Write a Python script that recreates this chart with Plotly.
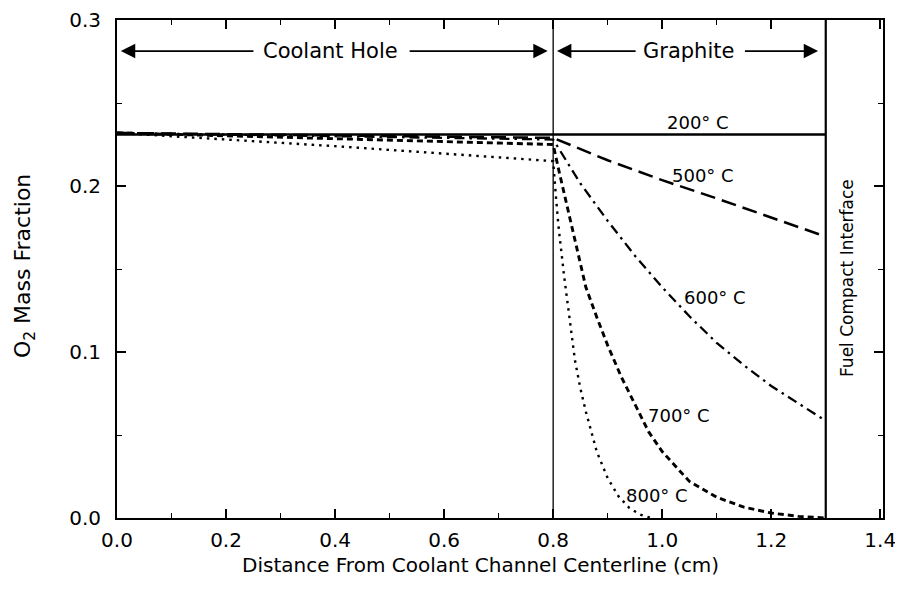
import plotly.graph_objects as go

# ---- data ----
x_200 = [0.0, 1.3]
o2_200 = [0.231, 0.231]

x_500 = [0.0, 0.4, 0.8, 0.9, 1.0, 1.1, 1.2, 1.3]
o2_500 = [0.232, 0.2305, 0.229, 0.2155, 0.2035, 0.1925, 0.181, 0.1695]

x_600 = [0.0, 0.4, 0.8, 0.85, 0.9, 0.95, 1.0, 1.05, 1.1, 1.15, 1.2, 1.25, 1.3]
o2_600 = [0.232, 0.230, 0.228, 0.2015, 0.179, 0.158, 0.139, 0.1215, 0.1055, 0.092, 0.0795, 0.069, 0.0585]

x_700 = [0.0, 0.4, 0.8, 0.81, 0.82, 0.84, 0.86, 0.88, 0.9, 0.925, 0.95, 0.975, 1.0, 1.05, 1.1, 1.15, 1.2, 1.25, 1.3]
o2_700 = [0.232, 0.2285, 0.225, 0.210, 0.196, 0.168, 0.139, 0.121, 0.104, 0.085, 0.068, 0.052, 0.040, 0.022, 0.0125, 0.0065, 0.003, 0.001, 0.0]

x_800 = [0.0, 0.2, 0.4, 0.6, 0.8, 0.805, 0.81, 0.82, 0.83, 0.84, 0.85, 0.86, 0.88, 0.9, 0.92, 0.94, 0.96, 0.98]
o2_800 = [0.232, 0.228, 0.224, 0.2195, 0.215, 0.194, 0.175, 0.146, 0.120, 0.095, 0.078, 0.064, 0.040, 0.024, 0.013, 0.006, 0.002, 0.0]

coolant_edge = 0.8
fuel_interface = 1.3

curve_labels = ["200° C", "500° C", "600° C", "700° C", "800° C"]
label_x = [1.065, 1.075, 1.096, 1.03, 0.991]
label_y = [0.238, 0.2066, 0.133, 0.062, 0.0134]

x_ticks = [0.0, 0.2, 0.4, 0.6, 0.8, 1.0, 1.2, 1.4]
y_ticks = [0.0, 0.1, 0.2, 0.3]

FONT = "DejaVu Sans"
BLACK = "#000000"

# page body has an 8px margin; size the figure so the plot area lands where the reference has it
W, H = 895, 579
PL, PT, PR, PB = 109, 12, 20, 69   # plot area: page x 117..883, page y 20..518
PW = W - PL - PR
PH = H - PT - PB

fig = go.Figure()

series = [
    (x_200, o2_200, "solid", 2.4),
    (x_500, o2_500, "15px,7px", 2.5),
    (x_600, o2_600, "10px,5px,2.5px,5px", 2.3),
    (x_700, o2_700, "6px,4px", 2.9),
    (x_800, o2_800, "2.5px,5px", 2.4),
]
for (xs, ys, dash, w), name in zip(series, curve_labels):
    fig.add_trace(go.Scatter(x=xs, y=ys, mode="lines", name=name,
                             line=dict(color=BLACK, width=w, dash=dash),
                             showlegend=False, hoverinfo="skip"))

# region boundaries
fig.add_shape(type="line", xref="x", yref="y", x0=coolant_edge, x1=coolant_edge,
              y0=0, y1=0.3, line=dict(color=BLACK, width=1.3))
fig.add_shape(type="line", xref="x", yref="y", x0=fuel_interface, x1=fuel_interface,
              y0=0, y1=0.3, line=dict(color=BLACK, width=2.2))

ann = []
for t, lx, ly in zip(curve_labels, label_x, label_y):
    ann.append(dict(x=lx, y=ly, xref="x", yref="y", text=t, showarrow=False,
                    font=dict(family=FONT, size=18, color=BLACK),
                    xanchor="center", yanchor="middle"))

# region labels with arrows
arrow_y = 0.2813
ann.append(dict(x=0.391, y=arrow_y, xref="x", yref="y", text="Coolant Hole", showarrow=False,
                font=dict(family=FONT, size=21, color=BLACK), xanchor="center", yanchor="middle"))
ann.append(dict(x=1.048, y=arrow_y, xref="x", yref="y", text="Graphite", showarrow=False,
                font=dict(family=FONT, size=21, color=BLACK), xanchor="center", yanchor="middle"))
arrows = [(0.253, 0.007), (0.534, 0.79), (0.954, 0.807), (1.149, 1.286)]
for tail, head in arrows:
    ann.append(dict(x=head, y=arrow_y, ax=tail, ay=arrow_y, xref="x", yref="y",
                    axref="x", ayref="y", text="", showarrow=True,
                    arrowhead=2, arrowsize=1.6, arrowwidth=1.8, arrowcolor=BLACK))

ann.append(dict(x=1.339, y=0.1446, xref="x", yref="y", text="Fuel Compact Interface",
                showarrow=False, textangle=-90,
                font=dict(family=FONT, size=17, color=BLACK), xanchor="center", yanchor="middle"))

# axis titles (positions given in page pixels of the reference)
ann.append(dict(x=(480 - 117) / PW, y=(518 - 565) / PH, xref="paper", yref="paper",
                text="Distance From Coolant Channel Centerline (cm)", showarrow=False,
                font=dict(family=FONT, size=20, color=BLACK), xanchor="center", yanchor="middle"))
ann.append(dict(x=(24 - 117) / PW, y=(518 - 266) / PH, xref="paper", yref="paper",
                text="O<sub>2</sub> Mass Fraction", showarrow=False, textangle=-90,
                font=dict(family=FONT, size=22, color=BLACK), xanchor="center", yanchor="middle"))

fig.update_layout(
    width=W, height=H,
    margin=dict(l=PL, r=PR, t=PT, b=PB, autoexpand=False),
    paper_bgcolor="white", plot_bgcolor="white",
    annotations=ann,
    font=dict(family=FONT, color=BLACK),
)
fig.update_xaxes(range=[0, 1.405], tickvals=x_ticks, ticktext=[f"{v:.1f}" for v in x_ticks],
                 ticks="inside", ticklen=9, tickwidth=1.5, tickcolor=BLACK,
                 minor=dict(dtick=0.1, tick0=0, ticks="inside", ticklen=5, tickwidth=1.2, tickcolor=BLACK),
                 showline=True, linewidth=2, linecolor=BLACK, mirror="ticks",
                 showgrid=False, zeroline=False, ticklabelstandoff=3, automargin=False,
                 ticklabeloverflow="allow",
                 tickfont=dict(family=FONT, size=20, color=BLACK))
fig.update_yaxes(range=[0, 0.3], tickvals=y_ticks, ticktext=[f"{v:.1f}" for v in y_ticks],
                 ticks="inside", ticklen=9, tickwidth=1.5, tickcolor=BLACK,
                 minor=dict(dtick=0.05, tick0=0, ticks="inside", ticklen=5, tickwidth=1.2, tickcolor=BLACK),
                 showline=True, linewidth=2, linecolor=BLACK, mirror="ticks",
                 showgrid=False, zeroline=False, ticklabelstandoff=10, automargin=False,
                 ticklabeloverflow="allow",
                 tickfont=dict(family=FONT, size=20, color=BLACK))

fig.write_html("out.html")
